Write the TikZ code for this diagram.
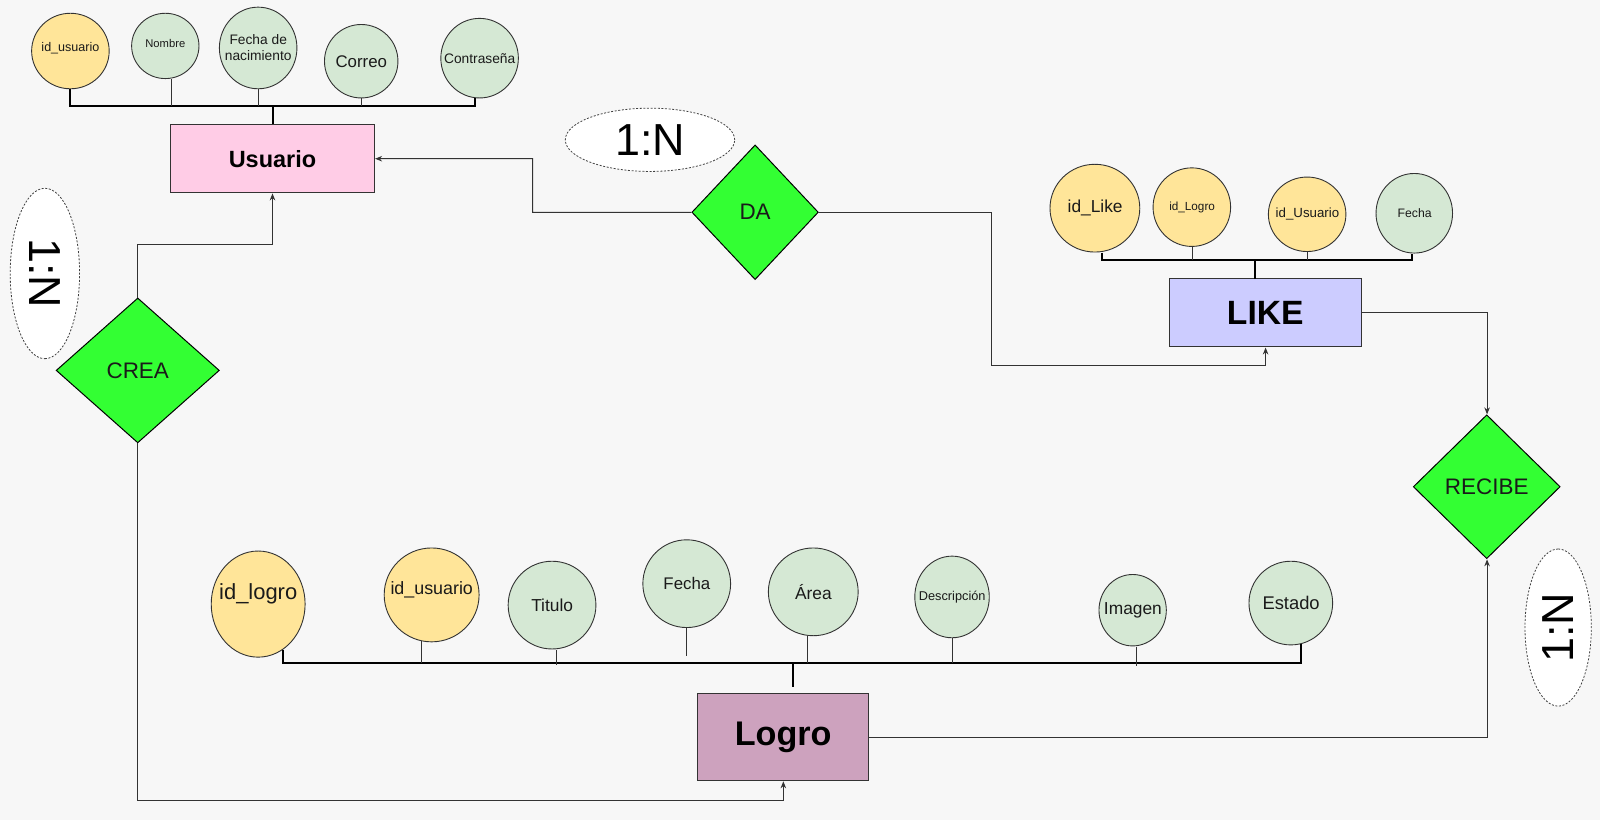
\documentclass[tikz,border=0pt]{standalone}
\usepackage{fontspec}
\setmainfont{Liberation Sans}
\usetikzlibrary{shapes.geometric,arrows.meta}
\definecolor{bg}{HTML}{F7F7F7}
\definecolor{pk}{HTML}{FFE599}
\definecolor{at}{HTML}{D5E8D4}
\definecolor{rel}{HTML}{33FF33}
\definecolor{usr}{HTML}{FFCCE6}
\definecolor{lik}{HTML}{CCCCFF}
\definecolor{lgr}{HTML}{CDA2BE}
\definecolor{ln}{HTML}{333333}
\definecolor{tx}{HTML}{1A1A1A}
\begin{document}
\begin{tikzpicture}[x=1pt,y=-1pt,
 attr/.style={ellipse, draw=ln, line width=0.9pt, inner sep=0pt},
 pkey/.style={attr, fill=pk},
 natt/.style={attr, fill=at},
 ent/.style={rectangle, draw=ln, line width=1pt, font=\bfseries, inner sep=0pt},
 relb/.style={diamond, draw=black, line width=1pt, fill=rel, inner sep=0pt, font=\fontsize{22}{26}\selectfont, text=tx},
 card/.style={ellipse, draw=black!75, line width=0.8pt, dash pattern=on 2pt off 1.6pt, fill=white, inner sep=0pt, font=\fontsize{44}{48}\selectfont},
 bus/.style={draw=black, line width=2pt, line join=miter},
 drop/.style={draw=ln, line width=0.8pt},
 conn/.style={draw=ln, line width=1pt},
 arr/.style={conn, -{Stealth[length=7pt,width=5.5pt]}},
 txt/.style={font=\fontsize{#1}{#1}\selectfont, text=tx, align=center}
]
\useasboundingbox (0,0) rectangle (1600,820);
\fill[bg] (0,0) rectangle (1600,820);

\begin{scope}[scale=1.0204, transform shape]
% ---------- Usuario ----------
\node[ent, fill=usr, minimum width=200, minimum height=67, font=\bfseries\fontsize{23}{26}\selectfont] (usr) at (267,155.5) {Usuario};
\node[pkey, minimum width=76, minimum height=74, label={[txt=12.3, yshift=3pt]center:id\_usuario}] (u1) at (69,50) {};
\node[natt, minimum width=66, minimum height=64, label={[txt=11, yshift=2pt]center:Nombre}] (u2) at (162,45) {};
\node[natt, minimum width=76, minimum height=80, label={[txt=13.5, font=\fontsize{13.5}{15.5}\selectfont]center:Fecha de\\nacimiento}] (u3) at (253,47) {};
\node[natt, minimum width=72, minimum height=72, label={[txt=16.5]center:Correo}] (u4) at (354,60) {};
\node[natt, minimum width=76, minimum height=78, label={[txt=13.5]center:Contraseña}] (u5) at (470,57) {};
\coordinate (ub) at (267,104);
\draw[bus] (u1.south) |- ([xshift=-5pt]u5.south |- ub) -- ([xshift=-5pt]u5.south);
\draw[bus] (ub) -- (usr.north);
\draw[drop] ([xshift=6pt]u2.south) -- ([xshift=6pt]u2.south |- ub);
\draw[drop] (u3.south) -- (u3.south |- ub);
\draw[drop] (u4.south) -- (u4.south |- ub);

% ---------- LIKE ----------
\node[ent, fill=lik, minimum width=188, minimum height=67, font=\bfseries\fontsize{33}{38}\selectfont] (lik) at (1240,306.5) {LIKE};
\node[pkey, minimum width=88, minimum height=86, label={[txt=17]center:id\_Like}] (k1) at (1073,204) {};
\node[pkey, minimum width=76, minimum height=77, label={[txt=11.5]center:id\_Logro}] (k2) at (1168,203) {};
\node[pkey, minimum width=76, minimum height=73, label={[txt=13]center:id\_Usuario}] (k3) at (1281,210) {};
\node[natt, minimum width=75, minimum height=78, label={[txt=12]center:Fecha}] (k4) at (1386,209) {};
\coordinate (lb) at (1230,255);
\coordinate (lt) at (1230,273);
\draw[bus] ([xshift=7pt]k1.south) |- ([xshift=-3pt]k4.south |- lb) -- ([xshift=-3pt]k4.south);
\draw[bus] (lb) -- (lt);
\draw[drop] (k2.south) -- (k2.south |- lb);
\draw[drop] (k3.south) -- (k3.south |- lb);

% ---------- Logro ----------
\node[ent, fill=lgr, minimum width=167, minimum height=85, font=\bfseries\fontsize{33.5}{40}\selectfont] (lgr) at (767.5,722.5) {Logro};
\node[pkey, minimum width=92, minimum height=104, label={[txt=21.5, yshift=10pt]center:id\_logro}] (g1) at (253,592) {};
\node[pkey, minimum width=93, minimum height=92, label={[txt=17.5, yshift=5pt]center:id\_usuario}] (g2) at (423,583) {};
\node[natt, minimum width=86, minimum height=86, label={[txt=17]center:Titulo}] (g3) at (541,593) {};
\node[natt, minimum width=86, minimum height=86, label={[txt=16.5]center:Fecha}] (g4) at (673,572) {};
\node[natt, minimum width=88, minimum height=86, label={[txt=17]center:Área}] (g5) at (797,580) {};
\node[natt, minimum width=73, minimum height=80, label={[txt=12.5]center:Descripción}] (g6) at (933,585) {};
\node[natt, minimum width=66, minimum height=70, label={[txt=17]center:Imagen}] (g7) at (1110,598) {};
\node[natt, minimum width=82, minimum height=82, label={[txt=18]center:Estado}] (g8) at (1265,591) {};
\coordinate (gb) at (777,650);
\coordinate (gt) at (777,673);
\coordinate (fe) at (673,643);
\draw[bus] (g1.-62) |- (g8.-76 |- gb) -- (g8.-76);
\draw[bus] (gb) -- (gt);
\draw[drop] (g2.-102) -- (g2.-102 |- gb);
\draw[drop] ([xshift=4pt]g3.south) -- ([xshift=4pt,yshift=-2pt]g3.south |- gb);
\draw[drop] (g4.south) -- (fe);
\draw[drop] ([xshift=-6pt]g5.south) -- ([xshift=-6pt]g5.south |- gb);
\draw[drop] (g6.south) -- (g6.south |- gb);
\draw[drop] ([xshift=3pt]g7.south) -- ([xshift=3pt,yshift=-3pt]g7.south |- gb);

% ---------- relations ----------
\node[relb, minimum width=124, minimum height=132] (da) at (740,208) {DA};
\node[relb, minimum width=160, minimum height=142] (crea) at (135,363) {CREA};
\node[relb, minimum width=144, minimum height=141] (rec) at (1457,477) {RECIBE};

\node[card, minimum width=166, minimum height=62] (c1) at (637,137) {1:N};
\node[card, minimum width=167, minimum height=68, rotate=-90] (c2) at (44,268) {1:N};
\node[card, minimum width=154, minimum height=65, rotate=90] (c3) at (1527,615) {1:N};

% ---------- connectors ----------
\draw[arr] (crea.north) -- ++(0,-52) -| (usr.south);
\draw[arr] (crea.south) -- ++(0,350) -| (lgr.south);
\draw[arr] (da.west) -| (522,155.5) -- (usr.east);
\draw[arr] (da.east) -| (972,358) -| (lik.south);
\draw[arr] (lik.east) -| (rec.north);
\draw[arr] (lgr.east) -| (rec.south);
\end{scope}
\end{tikzpicture}
\end{document}
